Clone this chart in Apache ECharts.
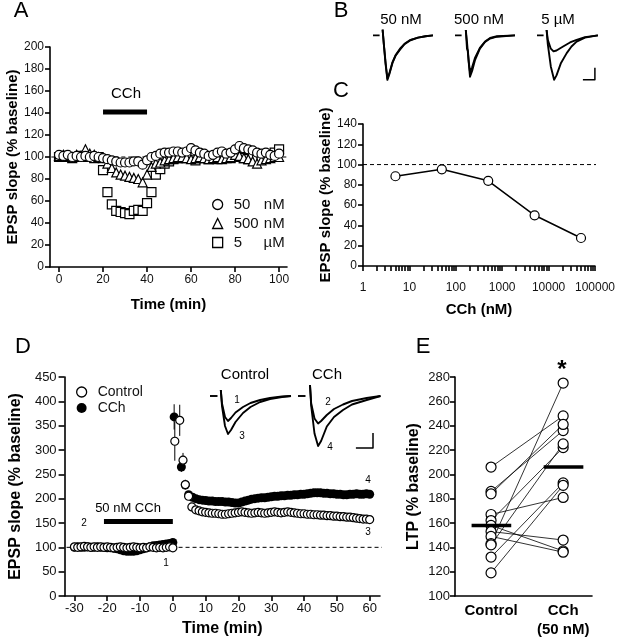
<!DOCTYPE html>
<html><head><meta charset="utf-8">
<script src="https://cdn.jsdelivr.net/npm/echarts@6/dist/echarts.min.js"></script>
<style>html,body{margin:0;padding:0;background:#fff}#c{width:618px;height:639px}</style>
</head><body><div id="c"></div>
<script>
// ================= DATA =================
// Panel A: EPSP slope vs time for three CCh concentrations
const timeA = [0,2,4,6,8,10,12,14,16,18,20,22,24,26,28,30,32,34,36,38,40,42,44,46,48,50,52,54,56,58,60,62,64,66,68,70,72,74,76,78,80,82,84,86,88,90,92,94,96,98,100];
const a50nM  = [102,101,102,100,101,100,101,100,101,100,99,98,97,96,95,95,95,96,96,93,97,100,101,103,104,104,105,105,104,105,108,106,104,103,101,102,104,105,103,104,107,110,108,107,106,104,103,104,102,101,103];
const a500nM = [101,102,101,100,102,101,107,103,102,100,99,94,90,86,84,83,82,81,80,77,84,91,94,95,97,98,99,100,100,99,98,99,100,99,98,99,100,98,99,100,102,101,99,98,96,94,97,98,99,100,100];
const a5uM   = [100,101,100,99,100,101,100,100,99,100,88,68,57,51,50,49,48,51,52,51,58,68,84,89,94,96,98,99,99,100,100,97,99,100,98,99,98,99,100,99,101,100,99,98,100,99,98,99,101,104,107];
const namesA = ['50 nM','500 nM','5 µM'];
const ticksAx = [0,20,40,60,80,100];
const cchBarA = [20,40];          // CCh application (min)
const cchBarLevelA = 141;
const dashExtentA = [-3.5,108];

// Panel C: dose-response
const concC = [5,50,500,5000,50000];
const valC  = [88.5,95.3,84,50,27.6];
const ticksCx = [1,10,100,1000,10000,100000];
const dashExtentC = [1,128000];

// Panel D: LTP time course
const timeDpre = [-30,-29,-28,-27,-26,-25,-24,-23,-22,-21,-20,-19,-18,-17,-16,-15,-14,-13,-12,-11,-10,-9,-8,-7,-6,-5,-4,-3,-2,-1,0];
const ctrlPre = [101,100,101,102,101,100,101,100,101,100,101,100,99,100,101,100,99,100,101,100,99,100,99,101,100,99,100,99,100,101,99];
const cchPre  = [100,101,100,100,101,100,100,101,100,100,99,99,98,97,95,93,92,92,92,93,95,97,99,101,103,104,105,106,107,108,110];
const ctrlPostT = [0.6,2.1,3.1,3.8,4.8,5.8,7,8,9,10,11,12,13,14,15,16,17,18,19,20,21,22,23,24,25,26,27,28,29,30,31,32,33,34,35,36,37,38,39,40,41,42,43,44,45,46,47,48,49,50,51,52,53,54,55,56,57,58,59,60];
const ctrlPost  = [318,361,279,229,205,183,177,175,173,172,171,170,170,169,168,168,169,170,171,172,173,172,171,170,171,172,171,170,171,172,173,172,171,172,173,172,171,170,169,169,168,168,167,167,166,166,165,165,164,164,163,163,162,162,161,160,159,158,158,157];
const ctrlPostSem = [40,32,15,10,6,4];
const cchPostT = [0.4,2.6,3.8,4.8,6,7,8,9,10,11,12,13,14,15,16,17,18,19,20,21,22,23,24,25,26,27,28,29,30,31,32,33,34,35,36,37,38,39,40,41,42,43,44,45,46,47,48,49,50,51,52,53,54,55,56,57,58,59,60];
const cchPost  = [368,265,228,208,203,200,198,197,196,195,195,194,194,194,193,193,192,191,191,193,195,197,199,200,201,202,202,203,204,205,205,206,206,207,207,208,208,209,209,210,211,212,212,212,211,211,210,210,209,209,208,208,209,209,210,209,209,210,209];
const cchPostSem = [26,10];
const ticksDx = [-30,-20,-10,0,10,20,30,40,50,60];
const cchBarD = [-21,0];
const cchBarLevelD = 153;
const dashExtentD = [-32.4,64];

// Panel E: paired LTP
const categoriesE = ['Control','CCh\n(50 nM)'];
const ltpControl = [206,186,184,167,162,158,153,149,143,142,132,119];
const ltpCCh     = [248,236,241,181,222,137,146,136,275,225,193,191];
const meanE = [158,206];

// Example traces (normalised amplitude vs time, arbitrary units)
const stimDashB = [[0,0],[2.2,0]];
const trace50a  = [[3.2,0.13],[3.6,-0.2],[4.2,-0.65],[4.8,-1.0],[5.5,-0.86],[6.5,-0.62],[7.5,-0.46],[9,-0.32],[10.5,-0.2],[12.5,-0.11],[15,-0.05],[17.5,-0.02],[20,0]];
const trace50b  = [[3.2,0.13],[3.6,-0.18],[4.2,-0.62],[4.8,-0.97],[5.5,-0.84],[6.5,-0.6],[7.5,-0.45],[9,-0.3],[10.5,-0.19],[12.5,-0.1],[15,-0.05],[17.5,-0.02],[20,0]];
const trace500a = [[3.6,0.12],[4,-0.15],[4.5,-0.55],[5,-0.93],[5.7,-0.8],[6.7,-0.55],[8.3,-0.3],[10,-0.15],[11.7,-0.07],[14,-0.03],[20,0]];
const trace500b = [[3.6,0.12],[4,-0.3],[4.3,-0.35],[4.6,-0.6],[5,-0.82],[5.7,-0.72],[6.7,-0.5],[8.3,-0.28],[10,-0.14],[11.7,-0.06],[14,-0.02],[20,0]];
const trace5a   = [[3.2,0.12],[3.6,-0.2],[4.6,-0.7],[5.7,-1.0],[6.5,-0.9],[8,-0.62],[9.9,-0.4],[11.5,-0.25],[13.2,-0.14],[16,-0.05],[20.3,0]];
const trace5b   = [[3.2,0.12],[3.6,-0.1],[4.6,-0.3],[5.5,-0.36],[6.5,-0.34],[8.7,-0.25],[11,-0.16],[13.2,-0.1],[16,-0.04],[20.3,0]];
const scaleBarB = [[15.3,-1.0],[19.3,-1.0],[19.3,-0.73]];
const stimDashD = [[0,0],[2.5,0]];
const ctrlTrace1 = [[3.6,0.12],[4.0,-0.15],[5,-0.42],[6,-0.5],[7,-0.44],[8.5,-0.33],[11,-0.22],[13.5,-0.14],[16.7,-0.08],[20,-0.04],[24,-0.01],[27,0]];
const ctrlTrace3 = [[3.6,0.12],[4.0,-0.2],[5,-0.6],[6,-0.76],[7,-0.68],[8.5,-0.52],[11,-0.34],[13.5,-0.22],[16.7,-0.12],[20,-0.06],[24,-0.02],[27,0]];
const cchTrace2 = [[4,0.22],[4.4,-0.15],[5.5,-0.45],[6.7,-0.55],[7.7,-0.5],[9.6,-0.38],[12,-0.26],[15,-0.17],[18,-0.1],[22.9,-0.04],[27.5,0]];
const cchTrace4 = [[4,0.22],[4.4,-0.2],[5.5,-0.75],[6.7,-1.0],[7.7,-0.9],[9.6,-0.61],[12,-0.42],[15,-0.28],[18,-0.17],[22.9,-0.08],[27.5,0]];
const scaleBarD = [[19.3,-1.04],[25,-1.04],[25,-0.74]];

// ================= CHART =================
const FONT = '"Liberation Sans", Arial, Helvetica, sans-serif';
const chart = echarts.init(document.getElementById('c'), null, {renderer:'canvas', width:618, height:639});

const lineS = {color:'#000', width:1.6};
function ax(o){
  const base = {
    type:'value',
    axisLine:{show:true, onZero:false, lineStyle:lineS},
    axisTick:{show:true, inside:false, length:5, lineStyle:lineS},
    axisLabel:{color:'#111', fontSize:12, fontFamily:FONT, margin:6},
    splitLine:{show:false},
    nameLocation:'middle',
    nameTextStyle:{color:'#000', fontSize:15, fontWeight:'bold', fontFamily:FONT}
  };
  for (const k in o) {
    if (o[k] && typeof o[k]==='object' && !Array.isArray(o[k]) && base[k] && typeof base[k]==='object') base[k] = Object.assign({}, base[k], o[k]);
    else base[k] = o[k];
  }
  return base;
}
const hid = (g, min, max) => ({gridIndex:g, type:'value', min, max, show:false});

const openSym = {color:'#fff', borderColor:'#000', borderWidth:1.2, opacity:1};
const trace = (x, y, data, w) => ({type:'line', xAxisIndex:x, yAxisIndex:y, data, symbol:'none', clip:false, silent:true, lineStyle:{color:'#000', width:w||1.9, join:'round'}, z:3});

const minorC = [];
for (let d=1; d<=10000; d*=10) for (let k=1; k<10; k++) minorC.push(k*d);
minorC.push(100000);

const errBar = (xi, yi, ts, vs, sems) => ({
  type:'custom', xAxisIndex:xi, yAxisIndex:yi, z:1, silent:true,
  data: sems.map((e,i)=>[ts[i], vs[i], e]),
  renderItem:(p, api)=>{
    const x=api.value(0), y=api.value(1), e=api.value(2);
    const a=api.coord([x,y-e]), b=api.coord([x,y+e]);
    return {type:'line', shape:{x1:a[0],y1:a[1],x2:b[0],y2:b[1]}, style:{stroke:'#000', lineWidth:1}};
  }
});

const series = [];
// ---- Panel A ----
series.push({name:namesA[2], type:'scatter', xAxisIndex:0, yAxisIndex:0, symbol:'rect', symbolSize:9, itemStyle:openSym, data:timeA.map((t,i)=>[t,a5uM[i]]), z:2});
series.push({name:namesA[1], type:'scatter', xAxisIndex:0, yAxisIndex:0, symbol:'triangle', symbolSize:9, itemStyle:openSym, data:timeA.map((t,i)=>[t,a500nM[i]]), z:3});
series.push({name:namesA[0], type:'scatter', xAxisIndex:0, yAxisIndex:0, symbol:'circle', symbolSize:9, itemStyle:openSym, data:timeA.map((t,i)=>[t,a50nM[i]]), z:4});
series.push({type:'line', xAxisIndex:0, yAxisIndex:0, symbol:'none', clip:false, silent:true, z:1, lineStyle:{color:'#000', width:1, type:[4,3]}, data:dashExtentA.map(x=>[x,100])});
series.push({type:'line', xAxisIndex:0, yAxisIndex:0, symbol:'none', silent:true, lineStyle:{color:'#000', width:5, cap:'butt'}, data:cchBarA.map(x=>[x,cchBarLevelA])});

// ---- Panel C ----
series.push({type:'line', xAxisIndex:1, yAxisIndex:1, symbol:'none', clip:false, silent:true, z:1, lineStyle:{color:'#000', width:1, type:[4,3]}, data:dashExtentC.map(x=>[x,100])});
series.push({type:'line', xAxisIndex:1, yAxisIndex:1, symbol:'circle', symbolSize:9, itemStyle:openSym, lineStyle:{color:'#000', width:1.5}, data:concC.map((c,i)=>[c,valC[i]]), z:3});

// ---- Panel D ----
series.push({type:'line', xAxisIndex:2, yAxisIndex:2, symbol:'none', clip:false, silent:true, z:1, lineStyle:{color:'#000', width:1, type:[4,3]}, data:dashExtentD.map(x=>[x,100])});
series.push({type:'line', xAxisIndex:2, yAxisIndex:2, symbol:'none', silent:true, lineStyle:{color:'#000', width:5, cap:'butt'}, data:cchBarD.map(x=>[x,cchBarLevelD])});
series.push(errBar(2,2,cchPostT,cchPost,cchPostSem));
series.push(errBar(2,2,ctrlPostT,ctrlPost,ctrlPostSem));
series.push({name:'CCh', type:'scatter', xAxisIndex:2, yAxisIndex:2, symbol:'circle', symbolSize:9, itemStyle:{color:'#000', opacity:1}, data:timeDpre.map((t,i)=>[t,cchPre[i]]).concat(cchPostT.map((t,i)=>[t,cchPost[i]])), z:2});
series.push({name:'Control', type:'scatter', xAxisIndex:2, yAxisIndex:2, symbol:'circle', symbolSize:8, itemStyle:openSym, data:timeDpre.map((t,i)=>[t,ctrlPre[i]]).concat(ctrlPostT.map((t,i)=>[t,ctrlPost[i]])), z:3});

// ---- Panel E ----
ltpControl.forEach((c,i)=>{
  series.push({type:'line', xAxisIndex:3, yAxisIndex:3, symbol:'circle', symbolSize:10, itemStyle:openSym, lineStyle:{color:'#000', width:0.8}, data:[[1,c],[2,ltpCCh[i]]], z:2});
});
meanE.forEach((m,i)=>{
  series.push({type:'line', xAxisIndex:3, yAxisIndex:3, symbol:'none', silent:true, lineStyle:{color:'#000', width:3.5, cap:'butt'}, data:[[i+1-0.27,m],[i+1+0.28,m]], z:4});
});

// ---- Traces B ----
series.push(trace(4,4,stimDashB), trace(4,4,trace50a), trace(4,4,trace50b));
series.push(trace(5,5,stimDashB), trace(5,5,trace500a), trace(5,5,trace500b));
series.push(trace(6,6,stimDashB), trace(6,6,trace5a), trace(6,6,trace5b), trace(6,6,scaleBarB,1.5));
// ---- Traces D inset ----
series.push(trace(7,7,stimDashD), trace(7,7,ctrlTrace1), trace(7,7,ctrlTrace3));
series.push(trace(8,8,stimDashD), trace(8,8,cchTrace2), trace(8,8,cchTrace4), trace(8,8,scaleBarD,1.5));

const T = (text,x,y,size,weight) => ({type:'text', x, y, silent:true, style:{text, fontSize:size, fontWeight:weight||'normal', fontFamily:FONT, fill:'#000', align:'center', verticalAlign:'middle'}});

const option = {
  animation:false,
  backgroundColor:'#fff',
  textStyle:{fontFamily:FONT},
  grid:[
    {left:50, top:47, width:237, height:220},
    {left:363, top:124, width:232, height:142},
    {left:53, top:377, width:327, height:219},
    {left:455, top:377, width:137, height:219},
    {left:373, top:22, width:60, height:64.5},
    {left:455, top:22, width:60, height:64.5},
    {left:537, top:22, width:60, height:64.5},
    {left:210, top:381, width:84, height:70},
    {left:298, top:381, width:84, height:70}
  ],
  xAxis:[
    ax({gridIndex:0, min:-4.1, max:103.6, axisTick:{customValues:ticksAx}, axisLabel:{customValues:ticksAx, margin:7}, name:'Time (min)', nameGap:30}),
    ax({gridIndex:1, type:'log', logBase:10, min:1, max:100000, axisTick:{customValues:minorC}, axisLabel:{customValues:ticksCx, margin:16, formatter:v=>String(Math.round(v))}, name:'CCh (nM)', nameGap:36}),
    ax({gridIndex:2, min:-33, max:63.15, axisTick:{customValues:ticksDx}, axisLabel:{customValues:ticksDx, fontSize:13, margin:6}, name:'Time (min)', nameGap:25, nameTextStyle:{fontSize:16}}),
    ax({gridIndex:3, min:0.5, max:2.4, axisTick:{show:false}, axisLabel:{customValues:[1,2], formatter:v=>categoriesE[Math.round(v)-1], fontSize:15, fontWeight:'bold', color:'#000', lineHeight:19, margin:5}}),
    hid(4,0,20), hid(5,0,20), hid(6,0,20), hid(7,0,28), hid(8,0,28)
  ],
  yAxis:[
    ax({gridIndex:0, min:0, max:200, interval:20, name:'EPSP slope (% baseline)', nameGap:30}),
    ax({gridIndex:1, min:0, max:140, interval:20, name:'EPSP slope (% baseline)', nameGap:26}),
    ax({gridIndex:2, min:0, max:450, interval:50, axisLabel:{fontSize:13, margin:8}, axisTick:{length:6}, name:'EPSP slope (% baseline)', nameGap:36, nameTextStyle:{fontSize:16}}),
    ax({gridIndex:3, min:100, max:280, interval:20, axisLabel:{fontSize:13, margin:5}, name:'LTP (% baseline)', nameGap:33, nameTextStyle:{fontSize:16}}),
    hid(4,-1.15,0.3), hid(5,-1.15,0.3), hid(6,-1.15,0.3), hid(7,-1.1,0.3), hid(8,-1.1,0.3)
  ],
  legend:[
    {data:namesA.map((n,i)=>({name:n, icon:['circle','triangle','rect'][i], itemStyle:{color:'#fff', borderColor:'#000', borderWidth:1.3}})),
     orient:'vertical', left:207, top:192, itemWidth:10, itemHeight:10, itemGap:4, selectedMode:false,
     textStyle:{fontSize:15, color:'#111', fontFamily:FONT, rich:{p:{width:6, fontSize:15}, v:{width:25, fontSize:15, fontFamily:FONT}, u:{width:26, align:'right', fontSize:15, fontFamily:FONT}}},
     formatter:n=>{const s=n.split(' '); return '{p| }{v|'+s[0]+'}{u|'+s[1]+'}';}},
    {data:[{name:'Control', icon:'circle', itemStyle:{color:'#fff', borderColor:'#000', borderWidth:1.3}}, {name:'CCh', icon:'circle', itemStyle:{color:'#000'}}],
     orient:'vertical', left:71, top:380, itemWidth:10, itemHeight:10, itemGap:2, selectedMode:false,
     textStyle:{fontSize:14, color:'#111', fontFamily:FONT, rich:{p:{width:6, fontSize:14}, t:{fontSize:14, fontFamily:FONT}}},
     formatter:n=>'{p| }{t|'+n+'}'}
  ],
  graphic:[
    T('A',21,11,22), T('B',341,11,22), T('C',341,91,22), T('D',23,347,22), T('E',423,347,22),
    T('CCh',126,94,15),
    T('50 nM',401,20,15), T('500 nM',479,20,15), T('5 µM',558,20,15),
    T('50 nM CCh',128,508,13),
    T('Control',245,375,15), T('CCh',327,375,15),
    T('1',237,400,10), T('3',242,436,10), T('2',328,402,10), T('4',330,447,10),
    T('2',84,523,10), T('1',166,563,10), T('4',368,480,10), T('3',368,532,10),
    T('*',562,370,24,'bold')
  ],
  series
};
chart.setOption(option);
</script>
</body></html>
